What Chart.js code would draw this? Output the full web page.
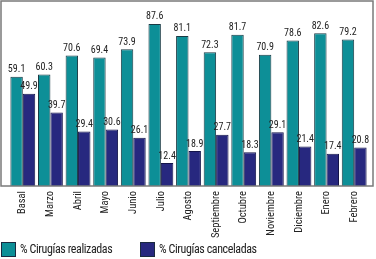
<!DOCTYPE html>
<html>
<head>
<meta charset="utf-8">
<script src="https://cdn.jsdelivr.net/npm/chart.js@4"></script>
<style>
  html, body { margin: 0; padding: 0; background: #fff; }
  #wrap { position: relative; width: 376px; height: 259px; }
  #legend { position: absolute; left: 0; top: 242px; font: 12px "Roboto Condensed", sans-serif; letter-spacing: -0.4px; color: #222; }
  .item { position: absolute; top: 0; white-space: nowrap; }
  .box { position: absolute; top: 0; width: 13px; height: 13px; border: 1px solid #1a2a40; }
  .lbl { position: absolute; top: 0; line-height: 15px; }
</style>
</head>
<body>
<div id="wrap">
  <canvas id="grafico" width="376" height="259"></canvas>
  <div id="legend">
    <div class="item" style="left:1px"><div class="box" style="background:#0d8f97"></div><span class="lbl" style="left:19px">% Cirugías realizadas</span></div>
    <div class="item" style="left:140px"><div class="box" style="background:#27287f"></div><span class="lbl" style="left:19px">% Cirugías canceladas</span></div>
  </div>
</div>
<script>
// datos
const meses = ["Basal", "Marzo", "Abril", "Mayo", "Junio", "Julio", "Agosto",
  "Septiembre", "Octubre", "Noviembre", "Diciembre", "Enero", "Febrero"];
const realizadas = [59.1, 60.3, 70.6, 69.4, 73.9, 87.6, 81.1, 72.3, 81.7, 70.9, 78.6, 82.6, 79.2];
const canceladas = [49.9, 39.7, 29.4, 30.6, 26.1, 12.4, 18.9, 27.7, 18.3, 29.1, 21.4, 17.4, 20.8];

const FONT = '"Roboto Condensed", sans-serif';

// marco gris alrededor del área + etiquetas encima de las barras
const marco = {
  id: "marco",
  afterDatasetsDraw(chart){
    const { ctx, chartArea } = chart;
    ctx.save();
    ctx.strokeStyle = "#7a7a7a";
    ctx.lineWidth = 1.5;
    ctx.strokeRect(1, 1, 372, chartArea.bottom - 1);

    ctx.fillStyle = "#222";
    ctx.font = `10px ${FONT}`;
    ctx.textAlign = "center";
    ctx.textBaseline = "bottom";
    chart.data.datasets.forEach((ds, i) => {
      chart.getDatasetMeta(i).data.forEach((bar, j) => {
        ctx.fillText(ds.data[j].toFixed(1), bar.x, bar.y - 2);
      });
    });
    ctx.restore();
  }
};

new Chart(document.getElementById("grafico"), {
  type: "bar",
  data: {
    labels: meses,
    datasets: [
      { label: "% Cirugías realizadas", data: realizadas, backgroundColor: "#0d8f97", borderColor: "#1a3a44", borderWidth: 1 },
      { label: "% Cirugías canceladas", data: canceladas, backgroundColor: "#27287f", borderColor: "#14144a", borderWidth: 1 }
    ]
  },
  options: {
    responsive: false,
    animation: false,
    layout: { padding: { left: 9, right: 8, top: 1, bottom: 0 } },
    datasets: { bar: { categoryPercentage: 0.9, barPercentage: 1 } },
    plugins: { legend: { display: false }, tooltip: { enabled: false } },
    scales: {
      x: {
        grid: { display: false, drawTicks: false },
        border: { display: false },
        ticks: { minRotation: 90, maxRotation: 90, padding: 5, color: "#222", font: { family: FONT, size: 10.5 } },
        afterFit(scale){ scale.height = 73; }
      },
      y: { display: false, min: 0, max: 100 }
    }
  },
  plugins: [marco]
});
</script>
</body>
</html>
